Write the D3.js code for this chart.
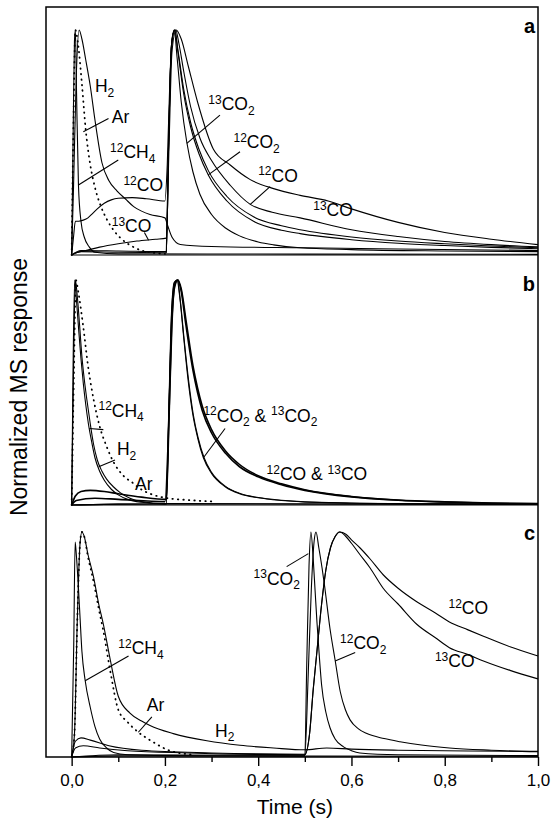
<!DOCTYPE html>
<html>
<head>
<meta charset="utf-8">
<script src="https://cdn.jsdelivr.net/npm/d3@7"></script>
<style>
  body { margin: 0; background: #fff; }
  text { font-family: "Liberation Sans", Arial, Helvetica, sans-serif; fill: #000; }
</style>
</head>
<body>
<script>
/******************************* Data **************************/
// time axis ticks (s)
var xTicks = [0, 0.2, 0.4, 0.6, 0.8, 1.0];
var xMinorTicks = [0.1, 0.3, 0.5, 0.7, 0.9];
var panelNames = ["a", "b", "c"];

// panel a : [time, normalized response]
var aH2 = [[0,0],[0.004,0.3],[0.01,0.8],[0.016,1.0],[0.022,0.96],[0.03,0.87],[0.04,0.75],[0.05,0.6],[0.065,0.41],[0.08,0.33],[0.097,0.285],[0.115,0.25],[0.133,0.215],[0.15,0.195],[0.168,0.18],[0.2,0.165],[0.206,0.13],[0.215,0.08],[0.233,0.047],[0.3,0.038],[0.5,0.032],[0.7,0.027],[1.0,0.02]];
var aAr = [[0,0],[0.004,0.6],[0.008,1.0],[0.013,0.95],[0.022,0.76],[0.03,0.56],[0.04,0.4],[0.05,0.3],[0.062,0.22],[0.075,0.16],[0.09,0.11],[0.105,0.075],[0.118,0.053],[0.135,0.033],[0.15,0.02],[0.175,0.01],[0.2,0.005]];
var aCH4 = [[0,0],[0.003,0.5],[0.006,0.95],[0.008,1.0],[0.0105,0.72],[0.0146,0.31],[0.02,0.15],[0.027,0.08],[0.038,0.035],[0.05,0.012],[0.1,0.005],[0.5,0.004],[1.0,0.003]];
var a12CO = [[0,0],[0.004,0.08],[0.008,0.15],[0.015,0.15],[0.025,0.155],[0.035,0.165],[0.045,0.185],[0.055,0.205],[0.07,0.23],[0.085,0.245],[0.1,0.252],[0.13,0.255],[0.16,0.25],[0.2,0.24],[0.205,0.4],[0.211,0.8],[0.217,0.98],[0.223,1.0],[0.23,0.94],[0.24,0.82],[0.255,0.66],[0.275,0.52],[0.3,0.42],[0.34,0.31],[0.383,0.225],[0.43,0.19],[0.49,0.165],[0.6,0.112],[0.7,0.082],[0.8,0.06],[0.9,0.046],[1.0,0.036]];
var a13CO = [[0,0],[0.01,0.01],[0.03,0.02],[0.06,0.035],[0.1,0.05],[0.14,0.062],[0.18,0.07],[0.203,0.075],[0.209,0.5],[0.215,0.9],[0.224,1.0],[0.235,0.96],[0.25,0.84],[0.27,0.68],[0.304,0.47],[0.34,0.4],[0.383,0.335],[0.433,0.295],[0.49,0.265],[0.55,0.24],[0.6,0.205],[0.7,0.145],[0.8,0.1],[0.9,0.07],[1.0,0.046]];
var a13CO2 = [[0,0],[0.02,0.015],[0.1,0.012],[0.203,0.01],[0.208,0.5],[0.214,0.93],[0.22,1.0],[0.226,0.88],[0.235,0.68],[0.247,0.5],[0.26,0.37],[0.275,0.27],[0.3,0.18],[0.33,0.12],[0.36,0.085],[0.4,0.058],[0.433,0.045],[0.49,0.032],[0.6,0.024],[0.8,0.018],[1.0,0.015]];
var a12CO2 = [[0,0],[0.02,0.02],[0.1,0.018],[0.203,0.015],[0.208,0.5],[0.214,0.93],[0.221,1.0],[0.228,0.9],[0.24,0.72],[0.255,0.57],[0.273,0.45],[0.293,0.356],[0.333,0.24],[0.39,0.15],[0.45,0.11],[0.49,0.095],[0.6,0.068],[0.7,0.052],[0.8,0.042],[0.9,0.034],[1.0,0.028]];
var aOther = [[0.203,0.01],[0.208,0.5],[0.214,0.93],[0.221,1.0],[0.228,0.91],[0.24,0.74],[0.255,0.59],[0.273,0.47],[0.293,0.375],[0.333,0.26],[0.39,0.17],[0.45,0.13],[0.49,0.112],[0.6,0.08],[0.7,0.062],[0.8,0.05],[0.9,0.04],[1.0,0.032]];

// panel b
var bCH4 = [[0,0],[0.003,0.6],[0.0065,1.0],[0.01,0.92],[0.015,0.78],[0.02,0.65],[0.025,0.54],[0.03,0.45],[0.036,0.36],[0.043,0.28],[0.05,0.21],[0.06,0.15],[0.07,0.11],[0.085,0.07],[0.1,0.045],[0.12,0.025],[0.15,0.012],[0.2,0.005],[1.0,0.002]];
var bH2 = [[0,0],[0.004,0.6],[0.008,1.0],[0.012,0.93],[0.017,0.8],[0.022,0.66],[0.027,0.56],[0.0325,0.47],[0.04,0.36],[0.047,0.27],[0.055,0.2],[0.065,0.15],[0.075,0.115],[0.09,0.08],[0.104,0.055],[0.125,0.03],[0.15,0.015],[0.2,0.006],[1.0,0.003]];
var bAr = [[0,0],[0.005,0.6],[0.009,1.0],[0.014,0.95],[0.025,0.79],[0.035,0.62],[0.047,0.47],[0.06,0.35],[0.075,0.26],[0.09,0.19],[0.111,0.13],[0.13,0.1],[0.147,0.072],[0.175,0.045],[0.2,0.032],[0.25,0.022],[0.3,0.016]];
var b12CO2 = [[0,0],[0.1,0.004],[0.203,0.005],[0.208,0.4],[0.214,0.85],[0.22,0.99],[0.226,1.0],[0.232,0.92],[0.24,0.75],[0.25,0.55],[0.26,0.4],[0.27,0.3],[0.2825,0.21],[0.3,0.14],[0.33,0.08],[0.36,0.05],[0.4,0.032],[0.45,0.02],[0.5,0.013],[0.6,0.008],[0.8,0.005],[1.0,0.004]];
var b13CO2 = [[0,0],[0.1,0.004],[0.203,0.005],[0.209,0.45],[0.215,0.88],[0.221,0.99],[0.227,1.0],[0.233,0.91],[0.241,0.74],[0.251,0.55],[0.261,0.4],[0.271,0.3],[0.284,0.21],[0.3,0.145],[0.33,0.083],[0.36,0.052],[0.4,0.033],[0.45,0.021],[0.5,0.014],[0.6,0.009],[0.8,0.005],[1.0,0.004]];
var b12CO = [[0,0],[0.008,0.04],[0.02,0.06],[0.04,0.065],[0.07,0.06],[0.1,0.05],[0.15,0.035],[0.203,0.025],[0.209,0.4],[0.215,0.8],[0.221,0.98],[0.227,1.0],[0.234,0.96],[0.245,0.8],[0.26,0.6],[0.27,0.5],[0.28,0.42],[0.3,0.32],[0.33,0.23],[0.36,0.17],[0.4,0.125],[0.45,0.09],[0.5,0.065],[0.6,0.036],[0.7,0.021],[0.8,0.013],[0.9,0.008],[1.0,0.005]];
var b13CO = [[0,0],[0.01,0.02],[0.05,0.03],[0.1,0.025],[0.2,0.015],[0.208,0.35],[0.214,0.78],[0.221,0.97],[0.228,1.0],[0.235,0.96],[0.246,0.81],[0.26,0.62],[0.27,0.52],[0.28,0.44],[0.3,0.335],[0.33,0.24],[0.36,0.18],[0.4,0.13],[0.45,0.094],[0.5,0.068],[0.6,0.038],[0.7,0.022],[0.8,0.014],[0.9,0.009],[1.0,0.006]];

// panel c
var cCH4 = [[0,0],[0.0045,0.5],[0.0075,0.955],[0.01,0.9],[0.0146,0.75],[0.018,0.62],[0.022,0.47],[0.029,0.34],[0.04,0.22],[0.05,0.135],[0.06,0.08],[0.075,0.04],[0.09,0.02],[0.12,0.01],[0.2,0.006],[0.5,0.004],[1.0,0.003]];
var cH2 = [[0,0],[0.006,0.1],[0.012,0.6],[0.018,0.95],[0.022,1.0],[0.027,0.98],[0.035,0.9],[0.047,0.8],[0.058,0.68],[0.068,0.59],[0.083,0.43],[0.1,0.27],[0.125,0.195],[0.15,0.16],[0.168,0.14],[0.218,0.104],[0.29,0.072],[0.361,0.052],[0.433,0.04],[0.5,0.032],[0.547,0.04],[0.6,0.035],[0.7,0.03],[0.85,0.027],[1.0,0.025]];
var cAr = [[0,0],[0.006,0.1],[0.012,0.6],[0.018,0.95],[0.022,1.0],[0.027,0.98],[0.035,0.89],[0.047,0.78],[0.058,0.66],[0.068,0.56],[0.083,0.38],[0.1,0.21],[0.12,0.155],[0.14,0.115],[0.168,0.075],[0.19,0.048],[0.204,0.033],[0.23,0.018],[0.26,0.01]];
var c12CO = [[0,0],[0.008,0.07],[0.02,0.085],[0.04,0.075],[0.08,0.05],[0.15,0.03],[0.3,0.018],[0.5,0.012],[0.51,0.1],[0.518,0.3],[0.526,0.47],[0.536,0.68],[0.545,0.83],[0.555,0.93],[0.565,0.98],[0.575,1.0],[0.588,0.99],[0.6,0.965],[0.618,0.93],[0.64,0.88],[0.668,0.81],[0.7,0.75],[0.74,0.69],[0.78,0.64],[0.81,0.6],[0.85,0.565],[0.883,0.537],[0.94,0.49],[1.0,0.449]];
var c13CO = [[0,0],[0.008,0.04],[0.025,0.05],[0.06,0.04],[0.12,0.028],[0.25,0.018],[0.5,0.01],[0.51,0.1],[0.518,0.3],[0.526,0.47],[0.536,0.68],[0.545,0.83],[0.555,0.93],[0.565,0.98],[0.575,1.0],[0.588,0.98],[0.6,0.95],[0.618,0.9],[0.64,0.84],[0.668,0.75],[0.7,0.68],[0.74,0.59],[0.78,0.53],[0.81,0.486],[0.85,0.455],[0.883,0.427],[0.94,0.385],[1.0,0.347]];
var c12CO2 = [[0,0],[0.1,0.01],[0.4,0.008],[0.5,0.008],[0.507,0.35],[0.514,0.75],[0.52,0.96],[0.524,1.0],[0.53,0.93],[0.537,0.84],[0.543,0.75],[0.554,0.57],[0.565,0.43],[0.576,0.29],[0.587,0.21],[0.597,0.165],[0.615,0.125],[0.633,0.104],[0.67,0.082],[0.704,0.068],[0.75,0.053],[0.81,0.04],[0.9,0.03],[1.0,0.023]];
var c13CO2 = [[0,0],[0.1,0.005],[0.5,0.004],[0.504,0.4],[0.509,0.85],[0.513,1.0],[0.518,0.88],[0.522,0.74],[0.526,0.6],[0.531,0.45],[0.536,0.32],[0.545,0.2],[0.554,0.13],[0.565,0.08],[0.583,0.045],[0.6,0.028],[0.618,0.018],[0.7,0.01],[1.0,0.006]];

// labels: [t, v, text, leader (t1, v1, t2, v2) or null]
var aLabels = [
  [0.05, 0.724, "H_2", null],
  [0.086, 0.587, "Ar", [0.079, 0.607, 0.025, 0.548]],
  [0.0825, 0.43, "^12CH_4", [0.1, 0.422, 0.0146, 0.311]],
  [0.111, 0.284, "^12CO", null],
  [0.086, 0.102, "^13CO", [0.156, 0.1, 0.165, 0.066]],
  [0.293, 0.644, "^13CO_2", [0.318, 0.622, 0.247, 0.496]],
  [0.347, 0.474, "^12CO_2", [0.361, 0.459, 0.293, 0.356]],
  [0.40, 0.326, "^12CO", [0.4255, 0.304, 0.383, 0.225]],
  [0.518, 0.173, "^13CO", null]
];
var bLabels = [
  [0.0575, 0.392, "^12CH_4", [0.068, 0.335, 0.038, 0.34]],
  [0.097, 0.222, "H_2", [0.093, 0.2, 0.058, 0.17]],
  [0.136, 0.067, "Ar", null],
  [0.2825, 0.37, "^12CO_2 & ^13CO_2", [0.329, 0.34, 0.2825, 0.21]],
  [0.418, 0.111, "^12CO & ^13CO", null]
];
var cLabels = [
  [0.1, 0.457, "^12CH_4", [0.122, 0.449, 0.029, 0.339]],
  [0.161, 0.203, "Ar", [0.172, 0.178, 0.143, 0.11]],
  [0.3076, 0.09, "H_2", null],
  [0.39, 0.765, "^13CO_2", [0.461, 0.846, 0.5076, 0.904]],
  [0.5756, 0.479, "^12CO_2", [0.608, 0.464, 0.565, 0.427]],
  [0.808, 0.634, "^12CO", null],
  [0.779, 0.398, "^13CO", null]
];

/******************************* Layout **************************/
var width = 552, height = 824;
var frame = {left: 46, right: 538, top: 7, bottom: 757};
var panelBase = [255, 505, 757];   // y pixel of the zero level of each panel
var panelTop = [7, 255, 505];
var unitHeight = 225;
var labelSize = 17.5, smallSize = 12;

var svg = d3.select("body").append("svg")
    .attr("width", width)
    .attr("height", height);

var x = d3.scaleLinear().domain([-0.055, 1.0]).range([frame.left, frame.right]);

var panels = [
  {series: [
      {d: aCH4}, {d: aH2}, {d: aAr, dotted: true}, {d: a12CO}, {d: a13CO},
      {d: a13CO2}, {d: a12CO2}, {d: aOther}],
   labels: aLabels},
  {series: [
      {d: bCH4}, {d: bH2}, {d: bAr, dotted: true}, {d: b12CO2}, {d: b13CO2},
      {d: b12CO, w: 1.6}, {d: b13CO, w: 1.6}],
   labels: bLabels},
  {series: [
      {d: cCH4}, {d: cH2}, {d: cAr, dotted: true}, {d: c12CO}, {d: c13CO},
      {d: c12CO2}, {d: c13CO2}],
   labels: cLabels}
];

// write a label with ^sup and _sub digits as tspans
function richLabel(g, px, py, str) {
  var t = g.append("text").attr("x", px).attr("y", py).attr("font-size", labelSize);
  var re = /\^(\d+)|_(\d+)|([^\^_]+)/g, m, shift = 0;
  while ((m = re.exec(str)) !== null) {
    var target = m[1] ? -6.5 : (m[2] ? 4.5 : 0);
    t.append("tspan")
      .attr("dy", target - shift)
      .attr("font-size", target === 0 ? labelSize : smallSize)
      .text(m[1] || m[2] || m[3]);
    shift = target;
  }
}

panels.forEach(function(p, i) {
  var y = d3.scaleLinear().domain([0, 1]).range([panelBase[i], panelBase[i] - unitHeight]);
  var g = svg.append("g").attr("class", "panel-" + panelNames[i]);

  var line = d3.line()
      .x(function(d) { return x(d[0]); })
      .y(function(d) { return y(d[1]); })
      .curve(d3.curveMonotoneX);

  // zero line of the panel (separator)
  if (i < 2) {
    g.append("line")
      .attr("x1", x(0)).attr("x2", frame.right)
      .attr("y1", y(0)).attr("y2", y(0))
      .attr("stroke", "#000").attr("stroke-width", 1.2);
  }

  g.selectAll("path.curve")
    .data(p.series)
    .enter().append("path")
      .attr("class", "curve")
      .attr("d", function(s) { return line(s.d); })
      .attr("fill", "none")
      .attr("stroke", "#000")
      .attr("stroke-width", function(s) { return s.dotted ? 1.8 : (s.w || 1.1); })
      .attr("stroke-linecap", function(s) { return s.dotted ? "round" : "butt"; })
      .attr("stroke-dasharray", function(s) { return s.dotted ? "0.5,5" : null; });

  p.labels.forEach(function(l) {
    if (l[3]) {
      g.append("line")
        .attr("x1", x(l[3][0])).attr("y1", y(l[3][1]))
        .attr("x2", x(l[3][2])).attr("y2", y(l[3][3]))
        .attr("stroke", "#000").attr("stroke-width", 1.1);
    }
    richLabel(g, x(l[0]), y(l[1]), l[2]);
  });

  g.append("text")
    .attr("x", frame.right - 3)
    .attr("y", panelTop[i] + [26, 36, 35][i])
    .attr("text-anchor", "end")
    .attr("font-size", 20)
    .attr("font-weight", "bold")
    .text(panelNames[i]);
});

/******************************* Frame and axes **************************/
svg.append("rect")
  .attr("x", frame.left).attr("y", frame.top)
  .attr("width", frame.right - frame.left)
  .attr("height", frame.bottom - frame.top)
  .attr("fill", "none").attr("stroke", "#000").attr("stroke-width", 1.5);

var xAxis = d3.axisBottom(x)
    .tickValues(xTicks)
    .tickSize(9)
    .tickSizeOuter(0)
    .tickPadding(8)
    .tickFormat(function(d) { return d3.format(".1f")(d).replace(".", ","); });

var axisG = svg.append("g")
    .attr("transform", "translate(0," + frame.bottom + ")")
    .call(xAxis);
axisG.select(".domain").remove();
axisG.selectAll("line").attr("stroke-width", 1.4);
axisG.selectAll("text")
    .attr("font-size", 17)
    .style("font-family", '"Liberation Sans", Arial, sans-serif');

var minorG = svg.append("g")
    .attr("transform", "translate(0," + frame.bottom + ")")
    .call(d3.axisBottom(x).tickValues(xMinorTicks).tickSize(5).tickSizeOuter(0).tickFormat(""));
minorG.select(".domain").remove();
minorG.selectAll("line").attr("stroke-width", 1.4);

svg.append("text")
  .attr("x", (x(0) + x(1)) / 2 - 10)
  .attr("y", 814)
  .attr("text-anchor", "middle")
  .attr("font-size", 21)
  .text("Time (s)");

svg.append("text")
  .attr("transform", "translate(27," + 387 + ") rotate(-90)")
  .attr("text-anchor", "middle")
  .attr("font-size", 23)
  .text("Normalized MS response");
</script>
</body>
</html>
